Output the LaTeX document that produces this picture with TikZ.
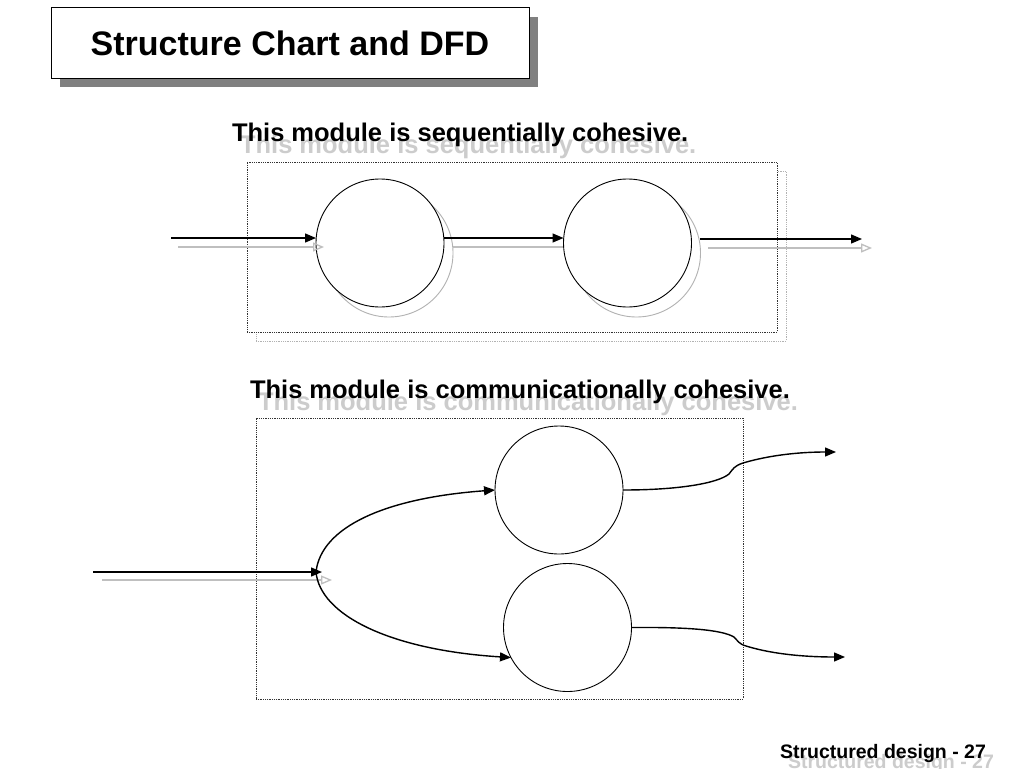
\documentclass[tikz,border=0pt]{standalone}
\usepackage{fontspec}
\setmainfont{Liberation Sans}
\usetikzlibrary{arrows.meta,shadows}
\begin{document}
\begin{tikzpicture}[x=1pt,y=-1pt,
  every node/.style={inner sep=0pt,outer sep=0pt},
  titlebox/.style={draw,line width=1pt,fill=white,minimum width=478pt,minimum height=70pt,
    font=\fontsize{34}{40}\selectfont\bfseries,
    drop shadow={shadow xshift=9pt,shadow yshift=-9pt,fill=black!50,opacity=1}},
  headline/.style={anchor=base west,font=\fontsize{25.5}{30}\selectfont\bfseries},
  ghostline/.style={anchor=base west,font=\fontsize{25.5}{30}\selectfont\bfseries,text=black!20},
  footline/.style={anchor=base west,font=\fontsize{19.5}{24}\selectfont\bfseries},
  ghostfoot/.style={anchor=base west,font=\fontsize{19.5}{24}\selectfont\bfseries,text=black!20},
  modulebox/.style={draw=black!80,densely dotted,line width=0.8pt,fill=white},
  plainbubble/.style={circle,draw,line width=0.9pt,fill=white,minimum size=128pt},
  bubble/.style={plainbubble,
    drop shadow={shadow xshift=9pt,shadow yshift=-10pt,fill=white,draw=black!30,line width=0.9pt,opacity=1}},
  flow/.style={line width=1.4pt,-{Triangle[length=11pt,width=9pt]}},
  ghostflow/.style={line width=1.3pt,draw=black!25,-{Triangle[open,length=11pt,width=9pt]}}
]
\useasboundingbox (0,0) rectangle (1024,768);
\fill[white] (0,0) rectangle (1024,768);

% title
\node[titlebox] (title) at (290,43) {Structure Chart and DFD};

% ---------- sequential ----------
\node[ghostline] (seqghost) at (240,153) {This module is sequentially cohesive.};
\node[headline] (seqhead) at (232,141) {This module is sequentially cohesive.};

\node[modulebox,minimum width=530pt,minimum height=170pt,
  drop shadow={shadow xshift=9pt,shadow yshift=-9pt,fill=white,draw=black!30,line width=0.9pt,opacity=1}]
  (seqbox) at (512,247) {};

\coordinate (gmidA) at (453,247);
\coordinate (gmidB) at (575,247);
\draw[ghostflow] (gmidA) -- (gmidB);

\node[bubble] (c1) at (380,243) {};
\node[bubble] (c2) at (627.5,243) {};

\coordinate (gin1A) at (178,247);
\coordinate (gin1B) at (324,247);
\draw[ghostflow] (gin1A) -- (gin1B);
\coordinate (gout1A) at (708,248);
\coordinate (gout1B) at (872,248);
\draw[ghostflow] (gout1A) -- (gout1B);

\coordinate (in1) at (171,238);
\coordinate (out1) at (862,239);
\draw[flow] (in1) -- (c1.west |- in1);
\draw[flow] (c1.east |- in1) -- (c2.west |- in1);
\draw[flow] ([xshift=8pt]c2.east |- out1) -- (out1);

% ---------- communicational ----------
\node[ghostline] (comghost) at (258,410) {This module is communicationally cohesive.};
\node[headline] (comhead) at (250,398) {This module is communicationally cohesive.};

\node[modulebox,minimum width=487pt,minimum height=281pt] (combox) at (499.5,558.5) {};

\node[plainbubble] (cA) at (559,490) {};
\node[plainbubble] (cB) at (567.5,627.5) {};

\coordinate (ginbA) at (102,580);
\coordinate (ginbB) at (332,580);
\draw[ghostflow] (ginbA) -- (ginbB);

\coordinate (inb) at (93,572);
\coordinate (split) at (316,572);
\draw[flow] (inb) -- ([xshift=6pt]split);
\draw[flow] (split) .. controls (321,527) and (385,498) .. (cA.west);
\draw[flow] (split) .. controls (320,615) and (390,650) .. (cB.208);

\coordinate (oA) at (836,452);
\coordinate (oB) at (845,657);
\draw[flow] (cA.east) .. controls (680,490) and (718,483) .. (729,474)
  .. controls (733,469) and (734,466) .. (743,463)
  .. controls (770,455) and (800,452) .. (oA);
\draw[flow] (cB.east) .. controls (690,627) and (722,630) .. (734,637)
  .. controls (738,641) and (739,644) .. (746,646)
  .. controls (775,655) and (810,657) .. (oB);

% footer
\node[ghostfoot] (footghost) at (788,768) {Structured design - 27};
\node[footline] (foot) at (780,758) {Structured design - 27};
\end{tikzpicture}
\end{document}
